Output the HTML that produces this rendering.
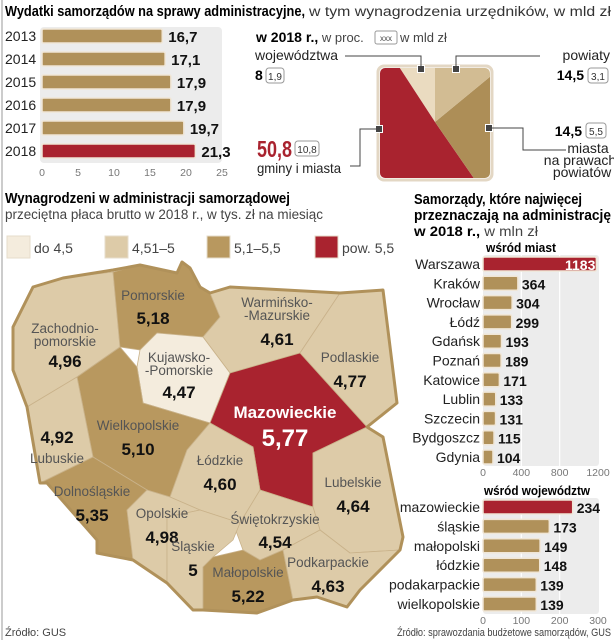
<!DOCTYPE html>
<html><head><meta charset="utf-8">
<style>
html,body{margin:0;padding:0;background:#fff;}
svg{display:block;font-family:"Liberation Sans Narrow","Liberation Sans",sans-serif;}
.b{font-weight:bold;}
</style></head>
<body>
<svg id="s" width="614" height="640" viewBox="0 0 614 640" xmlns="http://www.w3.org/2000/svg">
<line x1="2" y1="0" x2="2" y2="640" stroke="#999" stroke-width="1"/>
<text x="5" y="16" font-size="15" class="b" textLength="300" lengthAdjust="spacingAndGlyphs">Wydatki samorządów na sprawy administracyjne,</text>
<text x="309" y="16" font-size="13.5" textLength="302" lengthAdjust="spacingAndGlyphs" fill="#333">w tym wynagrodzenia urzędników, w mld zł</text>
<rect x="40" y="27" width="182" height="136" fill="#ececec" rx="4"/>
<g id="topbars"></g>

<text x="256" y="42" font-size="14"><tspan class="b">w 2018 r.,</tspan><tspan font-size="13" fill="#444"> w proc.</tspan></text>
<rect x="375" y="31" width="22" height="13" fill="#fff" stroke="#999" rx="2"/>
<text x="386" y="41" font-size="8" text-anchor="middle" fill="#444">xxx</text>
<text x="400" y="42" font-size="13" fill="#444">w mld zł</text>
<g id="square"></g>
<g stroke="#444" fill="none" stroke-width="1">
<polyline points="345,56 421,56 421,69"/><polyline points="456,69 456,56 540,56"/>
<polyline points="379,129 360,129 360,166 350,166"/><polyline points="489,128 523,128 523,150 566,150"/>
</g>
<text x="255" y="60" font-size="14" fill="#222" textLength="83" lengthAdjust="spacingAndGlyphs">województwa</text>
<text x="255" y="80" font-size="14" class="b">8</text>
<rect x="266" y="68" width="18" height="15" fill="#fff" stroke="#999" rx="3"/><text x="275" y="80" font-size="10" text-anchor="middle" fill="#333">1,9</text>
<text x="610" y="60" font-size="14" text-anchor="end" fill="#222">powiaty</text>
<text x="584" y="80" font-size="14" text-anchor="end" class="b">14,5</text>
<rect x="588" y="68" width="20" height="15" fill="#fff" stroke="#999" rx="3"/><text x="598" y="80" font-size="10" text-anchor="middle" fill="#333">3,1</text>
<text x="257" y="157" font-size="23" class="b" fill="#a9232f" textLength="35" lengthAdjust="spacingAndGlyphs">50,8</text>
<rect x="295" y="141" width="24" height="15" fill="#fff" stroke="#999" rx="3"/><text x="307" y="153" font-size="10" text-anchor="middle" fill="#333">10,8</text>
<text x="257" y="173" font-size="14" fill="#222" textLength="84" lengthAdjust="spacingAndGlyphs">gminy i miasta</text>
<text x="582" y="136" font-size="14" text-anchor="end" class="b">14,5</text>
<rect x="586" y="123" width="20" height="15" fill="#fff" stroke="#999" rx="3"/><text x="596" y="135" font-size="10" text-anchor="middle" fill="#333">5,5</text>
<text x="588" y="153" font-size="14" text-anchor="middle" fill="#222"><tspan x="588">miasta</tspan><tspan x="580" dy="12">na prawach</tspan><tspan x="582" dy="12">powiatów</tspan></text>

<text x="5" y="203" font-size="14.5" class="b" textLength="285" lengthAdjust="spacingAndGlyphs">Wynagrodzeni w administracji samorządowej</text>
<text x="5" y="219" font-size="13.5" fill="#444" textLength="318" lengthAdjust="spacingAndGlyphs">przeciętna płaca brutto w 2018 r., w tys. zł na miesiąc</text>
<g id="legend"></g>
<g id="map"></g>

<text x="414" y="204" font-size="14.5" class="b" textLength="168" lengthAdjust="spacingAndGlyphs">Samorządy, które najwięcej</text>
<text x="414" y="220" font-size="14.5" class="b" textLength="197" lengthAdjust="spacingAndGlyphs">przeznaczają na administrację</text>
<text x="414" y="236" font-size="14" textLength="124" lengthAdjust="spacingAndGlyphs"><tspan class="b">w 2018 r.,</tspan><tspan fill="#444"> w mln zł</tspan></text>
<text x="486" y="252" font-size="12.5" class="b" textLength="70" lengthAdjust="spacingAndGlyphs">wśród miast</text>
<g id="cities"></g>
<text x="484" y="495" font-size="12.5" class="b" textLength="106" lengthAdjust="spacingAndGlyphs">wśród województw</text>
<g id="voivs"></g>

<text x="5" y="636" font-size="11" fill="#444">Źródło: GUS</text>
<text x="397" y="636" font-size="11" fill="#444" textLength="214" lengthAdjust="spacingAndGlyphs">Źródło: sprawozdania budżetowe samorządów, GUS</text>
</svg>
<script>
const NS='http://www.w3.org/2000/svg';
const GOLD='#b0915a', RED='#a9232f';
// top bar chart data
const years=['2013','2014','2015','2016','2017','2018'];
const spend=[16.7,17.1,17.9,17.9,19.7,21.3];
const spendLabels=['16,7','17,1','17,9','17,9','19,7','21,3'];
const spendTicks=[0,5,10,15,20,25];
// share square data (percent)
const shareNames=['wojewodztwa','gminy','miasta','powiaty'];
const sharePct=[8,50.8,14.5,14.5];
// map data
const regionNames=['Zachodnio-pomorskie','Pomorskie','Warmińsko-Mazurskie','Kujawsko-Pomorskie','Podlaskie','Mazowieckie','Wielkopolskie','Lubuskie','Łódzkie','Lubelskie','Dolnośląskie','Opolskie','Świętokrzyskie','Śląskie','Małopolskie','Podkarpackie'];
const wages=[4.96,5.18,4.61,4.47,4.77,5.77,5.10,4.92,4.60,4.64,5.35,4.98,4.54,5,5.22,4.63];
const wageLabels=['4,96','5,18','4,61','4,47','4,77','5,77','5,10','4,92','4,60','4,64','5,35','4,98','4,54','5','5,22','4,63'];
const legendLabels=['do 4,5','4,51–5','5,1–5,5','pow. 5,5'];
const legendThresholds=[4.5,5.0,5.5];
// city data
const cities=['Warszawa','Kraków','Wrocław','Łódź','Gdańsk','Poznań','Katowice','Lublin','Szczecin','Bydgoszcz','Gdynia'];
const cityVals=[1183,364,304,299,193,189,171,133,131,115,104];
const cityTicks=[0,400,800,1200];
// voivodeship data
const voivs=['mazowieckie','śląskie','małopolski','łódzkie','podakarpackie','wielkopolskie'];
const voivVals=[234,173,149,148,139,139];
const voivTicks=[0,100,200,300];

function mk(tag,attrs,parent,txt){const e=document.createElementNS(NS,tag);for(const k in attrs)e.setAttribute(k,attrs[k]);if(txt!==undefined)e.textContent=txt;parent.appendChild(e);return e;}

(function(){
 const g=document.getElementById('topbars');
 const x=v=>42+v*7.2;
 years.forEach((y,i)=>{
  const cy=36+i*23;
  const t=mk('text',{x:5,y:cy+5,'font-size':14,fill:'#222'},g,y);
  
  
  const r=mk('rect',{x:x(0),y:cy-7,width:x(spend[i])-x(0),height:14,fill:i===5?RED:GOLD,stroke:'#f0e6d6','stroke-width':1.5,rx:1.5},g);
  
  
  const v=mk('text',{x:x(spend[i])+6,y:cy+6,'font-size':15,'font-weight':'bold',fill:'#111'},g,spendLabels[i]);
  
  
 });
 spendTicks.forEach(tk=>{
  const t=mk('text',{x:x(tk),y:176,'font-size':10.5,fill:'#777','text-anchor':'middle'},g,tk);
  
  
 });
})();

(function(){
 const g=document.getElementById('square');
 const L=380,T=68,S=110,cx=435,cy=122,P=4*S;
 function pt(d){
  d=((d%P)+P)%P;
  const segs=[[cx,T,-1,0,cx-L],[L,T,0,1,S],[L,T+S,1,0,S],[L+S,T+S,0,-1,S],[L+S,T,-1,0,L+S-cx]];
  for(const s of segs){ if(d<=s[4]) return [s[0]+s[2]*d,s[1]+s[3]*d]; d-=s[4]; }
  return [cx,T];
 }
 const corners=[[L,T],[L,T+S],[L+S,T+S],[L+S,T]];
 const cornerD=[cx-L,cx-L+S,cx-L+2*S,cx-L+3*S];
 const cols=['#eadbc0',RED,'#ad8e57','#d2bc93'];
 mk('rect',{x:L-2,y:T-2,width:S+4,height:S+4,rx:6,fill:'#fff',stroke:'#e3d7c4','stroke-width':3},g);
 const clip=mk('clipPath',{id:'sqclip'},g);mk('rect',{x:L,y:T,width:S,height:S,rx:5},clip);
 const ranges=[];
 let a=sharePct[0]/100*P;
 ranges.push([0,a]);
 ranges.push([a,a+sharePct[1]/100*P]);
 const pw=sharePct[3]/100*P;
 ranges.push([a+sharePct[1]/100*P,P-pw]);
 ranges.push([P-pw,P]);
 ranges.forEach((r,i)=>{
  const pts=[[cx,cy],pt(r[0])];
  cornerD.forEach((cd,j)=>{if(cd>r[0]&&cd<r[1])pts.push(corners[j]);});
  pts.push(pt(r[1]));
  const p=mk('polygon',{points:pts.map(q=>q.join(',')).join(' '),fill:cols[i],'clip-path':'url(#sqclip)'},g);
  
  
 });
 [[421,69],[456,69],[379,129],[489,128]].forEach(c=>{
  const m=mk('rect',{x:c[0]-3.5,y:c[1]-3.5,width:7,height:7,fill:'#444',stroke:'#fff','stroke-width':1},g);
  
  
 });
})();

const classCols=['#f4ecdd','#ddcba8','#b8985f',RED];
function wageClass(v){let c=0;legendThresholds.forEach(t=>{if(v>t)c++;});return c;}
(function(){
 const lg=document.getElementById('legend');
 const lx=[7,105,207,315];
 legendLabels.forEach((l,i)=>{
  const r=mk('rect',{x:lx[i],y:236,width:23,height:22,fill:classCols[i],stroke:'#e6dccb','stroke-width':1},lg);
  
  
  const t=mk('text',{x:lx[i]+27,y:253,'font-size':14,fill:'#444'},lg,l);
  
  
 });
 const g=document.getElementById('map');
 const shapes=[
  '13,327 33,287 63,278 113,272 120,347 77,377 27,407 13,370',
  '113,272 140,265 177,273 182,262 190,268 200,287 210,293 220,317 203,337 157,333 140,350 120,347',
  '210,293 230,287 340,293 300,353 230,373 203,337 220,317',
  '140,350 157,333 203,337 230,373 210,423 143,403 137,367',
  '300,353 340,293 383,290 397,403 367,427',
  '230,373 300,353 367,427 313,453 313,507 260,490 253,447 210,423',
  '120,347 137,367 143,403 210,423 187,450 170,497 147,490 93,457 77,377',
  '77,377 93,457 40,483 27,407',
  '210,423 253,447 260,490 240,523 200,510 170,497 187,450',
  '367,427 383,437 403,537 400,550 350,553 320,530 313,507 313,453',
  '40,483 93,457 147,490 127,510 133,560 97,553 97,540 47,483',
  '147,490 170,497 200,510 167,517 167,583 133,560 127,510',
  '260,490 313,507 320,530 283,550 260,560 243,550 233,523 240,523',
  '200,510 240,523 233,540 213,557 203,567 203,610 193,610 167,583 167,517',
  '213,557 243,550 260,560 283,550 293,600 257,613 203,610 203,567',
  '320,530 350,553 400,550 360,590 347,607 317,597 293,600 283,550'
 ];
 const lab=[[65,333,367,['Zachodnio-','pomorskie']],[153,300,324,['Pomorskie']],[277,307,345,['Warmińsko-','-Mazurskie']],[179,362,398,['Kujawsko-','-Pomorskie']],[350,362,387,['Podlaskie']],[285,418,446,['Mazowieckie']],[138,430,455,['Wielkopolskie']],[57,463,443,['Lubuskie']],[220,465,490,['Łódzkie']],[353,487,512,['Lubelskie']],[92,496,521,['Dolnośląskie']],[162,518,543,['Opolskie']],[275,524,548,['Świętokrzyskie']],[193,551,576,['Śląskie']],[248,577,602,['Małopolskie']],[328,567,592,['Podkarpackie']]];
 regionNames.forEach((n,i)=>{
  const c=wageClass(wages[i]);
  const p=mk('polygon',{points:shapes[i],fill:classCols[c],stroke:'#c9b28a','stroke-width':0.8,'stroke-linejoin':'round'},g);
  
  
 });
 mk('polygon',{points:'13,327 33,287 63,278 113,270 140,265 177,273 182,262 190,268 200,287 210,293 230,287 340,293 383,290 397,403 367,427 383,437 403,537 400,550 360,590 347,607 317,597 293,600 257,613 203,610 193,610 167,583 133,560 97,553 97,540 47,483 40,483 27,407 13,370',fill:'none',stroke:'#b0915a','stroke-width':3,'stroke-linejoin':'round'},g);
 regionNames.forEach((n,i)=>{
  const c=wageClass(wages[i]);const L=lab[i];const big=c===3;
  const col=big?'#fff':'#555';
  L[3].forEach((s,k)=>{
   const t=mk('text',{x:L[0],y:L[1]+k*13,'font-size':big?17:13.5,'font-weight':big?'bold':'normal',fill:col,'text-anchor':'middle'},g,s);
   
   
  });
  const v=mk('text',{x:L[0],y:L[2],'font-size':big?24:17,'font-weight':'bold',fill:big?'#fff':'#111','text-anchor':'middle'},g,wageLabels[i]);
  
  
 });
})();

function hbar(gid,names,vals,ticks,max,y0,step,top,bottom,tickY,redInside){
 const g=document.getElementById(gid);
 const X0=483,X1=598;const x=v=>X0+v/max*(X1-X0);
 mk('rect',{x:X0,y:top,width:X1-X0+1,height:bottom-top,fill:'#ececec',rx:3},g);
 ticks.forEach(tk=>{if(tk>0&&tk<max){const l=mk('line',{x1:x(tk),x2:x(tk),y1:top,y2:bottom,stroke:'#fff','stroke-width':1.2},g);
  
  }});
 names.forEach((n,i)=>{
  const cy=y0+i*step;
  const t=mk('text',{x:X0-3,y:cy+5,'font-size':14,fill:'#222','text-anchor':'end'},g,n);
  
  
  const r=mk('rect',{x:X0,y:cy-7,width:x(vals[i])-X0,height:14,fill:i===0?RED:GOLD,stroke:'#f0e6d6','stroke-width':1.5,rx:1.5},g);
  
  
  const inside=i===0&&redInside;
  const v=mk('text',{x:inside?x(vals[i])-1:x(vals[i])+4,y:cy+6,'font-size':14,'font-weight':'bold',fill:inside?'#fff':'#111','text-anchor':inside?'end':'start'},g,vals[i]);
  
  
 });
 ticks.forEach(tk=>{
  const t=mk('text',{x:x(tk),y:tickY,'font-size':10.5,fill:'#777','text-anchor':'middle'},g,tk);
  
  
 });
}
hbar('cities',cities,cityVals,cityTicks,1200,264,19.3,255,466,476,true);
hbar('voivs',voivs,voivVals,voivTicks,300,507,19.4,498,614,624,false);
</script>
</body></html>
